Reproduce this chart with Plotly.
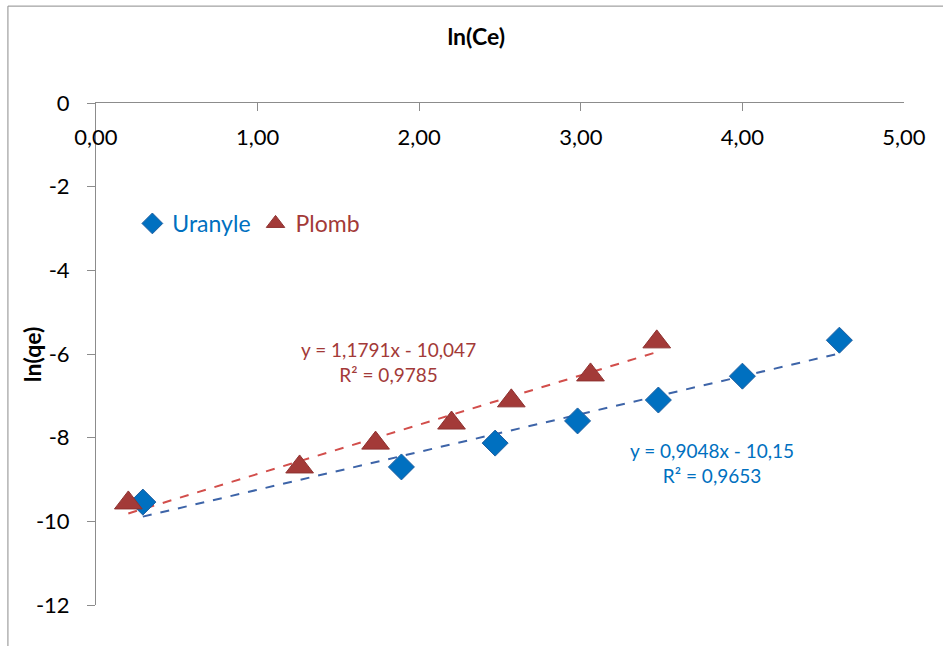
import plotly.graph_objects as go

# ln(Ce) / ln(qe) data for the two ions
uranyle_x = [0.29, 1.89, 2.47, 2.98, 3.48, 4.00, 4.60]
uranyle_y = [-9.54, -8.70, -8.13, -7.60, -7.10, -6.53, -5.67]
plomb_x = [0.20, 1.26, 1.73, 2.20, 2.57, 3.06, 3.47]
plomb_y = [-9.56, -8.70, -8.13, -7.65, -7.12, -6.50, -5.71]

# linear trendline parameters (slope, intercept, R²)
uranyle_fit = (0.9048, -10.15, 0.9653)
plomb_fit = (1.1791, -10.047, 0.9785)

x_ticks = [0, 1, 2, 3, 4, 5]
y_ticks = [0, -2, -4, -6, -8, -10, -12]
y_tick_labels = ["0", "-2", "-4", "-6", "-8", "-10", "-12"]

BLUE = "#0070C0"
RED = "#A33A38"
BLUE_LINE = "#3D64A8"
RED_LINE = "#D24E4B"
AXIS = "#8C8C8C"
FONT = "Lato"

fig = go.Figure()

def trend(xs, fit):
    a, b, _ = fit
    x0, x1 = min(xs), max(xs)
    return [x0, x1], [a * x0 + b, a * x1 + b]

tx, ty = trend(plomb_x, plomb_fit)
fig.add_trace(go.Scatter(x=tx, y=ty, mode="lines", showlegend=False,
                         line=dict(color=RED_LINE, width=2, dash="dash"), hoverinfo="skip"))
tx, ty = trend(uranyle_x, uranyle_fit)
fig.add_trace(go.Scatter(x=tx, y=ty, mode="lines", showlegend=False,
                         line=dict(color=BLUE_LINE, width=2, dash="dash"), hoverinfo="skip"))

fig.add_trace(go.Scatter(
    x=uranyle_x, y=uranyle_y, mode="markers",
    name=f"<span style='color:{BLUE}'>Uranyle</span>",
    marker=dict(symbol="diamond", size=20, color=BLUE,
                line=dict(color="#1F5FA0", width=1)),
))
fig.add_trace(go.Scatter(
    x=plomb_x, y=plomb_y, mode="markers",
    name=f"<span style='color:{RED}'>Plomb</span>",
    marker=dict(symbol="triangle-up", size=24, color=RED,
                line=dict(color="#8E3230", width=1)),
))

# empty trace so the label-only x axis gets drawn
fig.add_trace(go.Scatter(x=x_ticks, y=[None] * len(x_ticks), xaxis="x2", mode="markers",
                         showlegend=False, hoverinfo="skip"))

def fit_label(fit):
    a, b, r2 = fit
    sign = "-" if b < 0 else "+"
    fmt = lambda v: f"{v}".replace(".", ",")
    return f"y = {fmt(a)}x {sign} {fmt(abs(b))}<br>R² = {fmt(r2)}"

fig.add_annotation(x=1.81, y=-6.19, text=fit_label(plomb_fit), showarrow=False,
                   font=dict(family=FONT, size=19, color=RED), align="center")
fig.add_annotation(x=3.81, y=-8.61, text=fit_label(uranyle_fit), showarrow=False,
                   font=dict(family=FONT, size=19, color=BLUE), align="center")

# y axis title
fig.add_annotation(xref="paper", yref="paper", x=-0.079, y=0.5, text="<b>ln(qe)</b>",
                   textangle=-90, showarrow=False, xanchor="center", yanchor="middle",
                   font=dict(family=FONT, size=23, color="black"))

# outer chart frame (top and left edges)
fig.add_shape(type="line", xref="paper", yref="paper", x0=-0.109, x1=1.06, y0=1.193, y1=1.193,
              line=dict(color=AXIS, width=1))
fig.add_shape(type="line", xref="paper", yref="paper", x0=-0.109, x1=-0.109, y0=1.193, y1=-0.09,
              line=dict(color=AXIS, width=1))

fig.update_layout(
    width=943, height=646,
    margin=dict(l=96, r=39, t=103, b=41),
    paper_bgcolor="white", plot_bgcolor="white",
    separators=", ",
    font=dict(family=FONT, size=22, color="black"),
    # x axis title, centred over the whole chart
    title=dict(text="<b>ln(Ce)</b>", xref="container", yref="container",
               x=0.505, y=0.943, xanchor="center", yanchor="middle",
               font=dict(family=FONT, size=23, color="black")),
    showlegend=True,
    legend=dict(orientation="h", x=0.045, y=0.76, xanchor="left", yanchor="middle",
                font=dict(family=FONT, size=23), itemwidth=30, bgcolor="rgba(0,0,0,0)",
                tracegroupgap=0),
    # axis line at y = 0 along the top, ticks pointing down
    xaxis=dict(
        range=[0, 5], side="top", tickvals=x_ticks, showticklabels=False,
        ticks="inside", ticklen=8, tickcolor=AXIS,
        showline=True, linecolor=AXIS, linewidth=1,
        showgrid=False, zeroline=False,
    ),
    # tick labels of the x axis, sitting just below the axis line
    xaxis2=dict(
        range=[0, 5], overlaying="x", anchor="free", position=0.962,
        side="bottom", tickvals=x_ticks, tickformat=".2f", ticks="",
        showline=False, showgrid=False, zeroline=False,
        tickfont=dict(family=FONT, size=22),
    ),
    yaxis=dict(
        range=[-12, 0], tickvals=y_ticks, ticktext=y_tick_labels,
        ticks="outside", ticklen=8, tickcolor=AXIS, ticklabelstandoff=13,
        showline=True, linecolor=AXIS, linewidth=1,
        showgrid=False, zeroline=False,
        tickfont=dict(family=FONT, size=22),
    ),
)

fig.write_html("out.html")
